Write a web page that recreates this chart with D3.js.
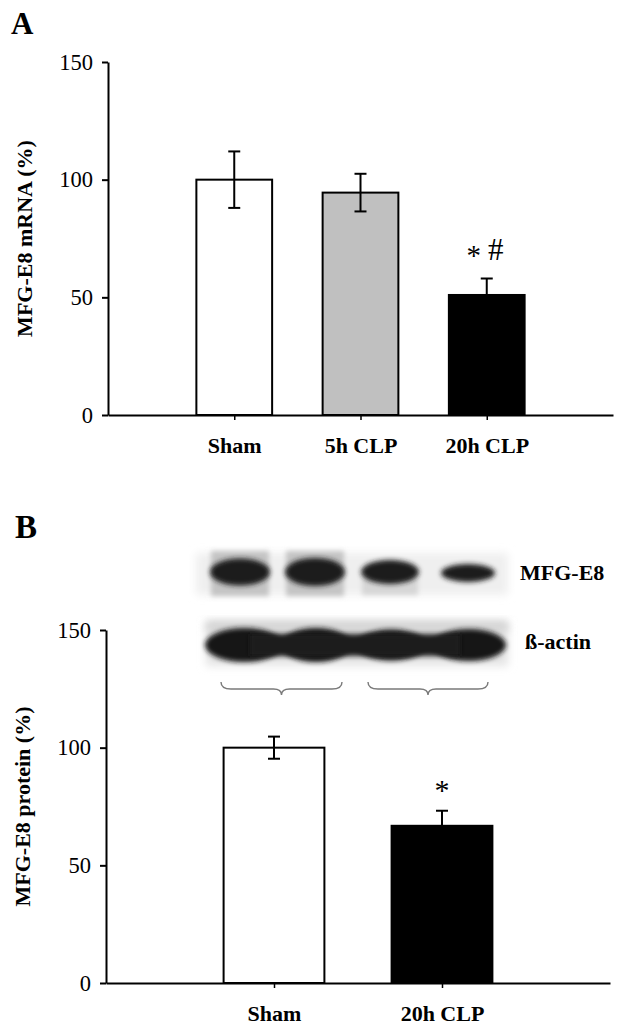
<!DOCTYPE html>
<html>
<head>
<meta charset="utf-8">
<script src="https://cdn.jsdelivr.net/npm/d3@7/dist/d3.min.js"></script>
<style>
  html, body { margin: 0; padding: 0; background: #fff; }
  svg { display: block; }
  text { font-family: "Liberation Serif", "Times New Roman", serif; fill: #000; }
</style>
</head>
<body>
<svg id="chart" width="624" height="1034"></svg>
<script>
// ---------- data ----------
const categoriesA = ["Sham", "5h CLP", "20h CLP"];
const mrnaMean = [100, 94.5, 51];
const mrnaErr = [12, 8, 7];
const annotationsA = ["", "", "* #"];

const categoriesB = ["Sham", "20h CLP"];
const proteinMean = [100, 66.8];
const proteinErr = [4.7, 6.4];
const annotationsB = ["", "*"];

const yTicks = [0, 50, 100, 150];
const blotLabels = ["MFG-E8", "ß-actin"];

// ---------- styles ----------
const fillA = d3.scaleOrdinal().domain(categoriesA).range(["#ffffff", "#c0c0c0", "#000000"]);
const fillB = d3.scaleOrdinal().domain(categoriesB).range(["#ffffff", "#000000"]);

const svg = d3.select("#chart");

const defs = svg.append("defs");
defs.append("filter").attr("id", "b1").attr("x", "-30%").attr("y", "-60%").attr("width", "160%").attr("height", "220%")
  .append("feGaussianBlur").attr("stdDeviation", 2.6);
defs.append("filter").attr("id", "b2").attr("x", "-20%").attr("y", "-60%").attr("width", "140%").attr("height", "220%")
  .append("feGaussianBlur").attr("stdDeviation", 4);

function drawPanel(g, cats, means, errs, notes, fill, x, y, label, yLabelX) {
  const bw = x.step() * 0.6;
  const [y0, y1] = y.range();

  g.selectAll("rect.bar").data(cats).join("rect")
    .attr("class", "bar")
    .attr("x", d => x(d) - bw / 2)
    .attr("y", (d, i) => y(means[i]))
    .attr("width", bw)
    .attr("height", (d, i) => y(0) - y(means[i]))
    .attr("fill", d => fill(d))
    .attr("stroke", "#000")
    .attr("stroke-width", 2);

  const eb = g.selectAll("g.err").data(cats).join("g").attr("class", "err");
  eb.append("line")
    .attr("x1", d => x(d)).attr("x2", d => x(d))
    .attr("y1", (d, i) => y(means[i] + errs[i]))
    .attr("y2", (d, i) => y(means[i] - errs[i]))
    .attr("stroke", "#000").attr("stroke-width", 2);
  [1, -1].forEach(s => {
    eb.append("line")
      .attr("x1", d => x(d) - 6).attr("x2", d => x(d) + 6)
      .attr("y1", (d, i) => y(means[i] + s * errs[i]))
      .attr("y2", (d, i) => y(means[i] + s * errs[i]))
      .attr("stroke", "#000").attr("stroke-width", 2);
  });

  const yAxis = d3.axisLeft(y).tickValues(yTicks).tickSize(6).tickSizeOuter(0).tickPadding(9);
  const ga = g.append("g").attr("transform", `translate(${x.range()[0]},0)`).call(yAxis);
  ga.select(".domain").attr("stroke-width", 2);
  ga.selectAll(".tick line").attr("stroke-width", 2);
  ga.selectAll(".tick text").style("font-size", "22.5px").style("font-family", "Liberation Serif");

  const xAxis = d3.axisBottom(x).tickSize(5).tickSizeOuter(0).tickPadding(17);
  const gx = g.append("g").attr("transform", `translate(0,${y(0)})`).call(xAxis);
  gx.select(".domain").attr("stroke-width", 2);
  gx.selectAll(".tick line").attr("stroke-width", 1.5);
  gx.selectAll(".tick text").style("font-size", "22px").style("font-weight", "bold")
    .style("font-family", "Liberation Serif");

  g.append("text")
    .attr("transform", `translate(${yLabelX},${(y0 + y1) / 2}) rotate(-90)`)
    .attr("text-anchor", "middle")
    .attr("dominant-baseline", "central")
    .style("font-size", "22px").style("font-weight", "bold")
    .text(label);

  cats.forEach((c, i) => {
    const n = notes[i];
    if (!n) return;
    const top = y(means[i] + errs[i]);
    const parts = n.split(" ");
    if (parts.length === 2) {
      g.append("text").attr("x", x(c) - 13).attr("y", top - 14)
        .attr("text-anchor", "middle").style("font-size", "29px").text(parts[0]);
      g.append("text").attr("x", x(c) + 9).attr("y", top - 19)
        .attr("text-anchor", "middle").style("font-size", "31px").text(parts[1]);
    } else {
      g.append("text").attr("x", x(c)).attr("y", top - 11)
        .attr("text-anchor", "middle").style("font-size", "30px").text(parts[0]);
    }
  });
}

// ---------- Panel A ----------
const yA = d3.scaleLinear().domain([0, 150]).range([415, 62]);
const xA = d3.scalePoint().domain(categoriesA).range([108, 613]).padding(1);
const gA = svg.append("g");
drawPanel(gA, categoriesA, mrnaMean, mrnaErr, annotationsA, fillA, xA, yA, "MFG-E8 mRNA (%)", 24);
svg.append("text").attr("x", 11).attr("y", 34).style("font-size", "31px").style("font-weight", "bold").text("A");

// ---------- Panel B ----------
const yB = d3.scaleLinear().domain([0, 150]).range([983, 630]);
const xB = d3.scalePoint().domain(categoriesB).range([106, 610]).padding(1);
const gB = svg.append("g");
drawPanel(gB, categoriesB, proteinMean, proteinErr, annotationsB, fillB, xB, yB, "MFG-E8 protein (%)", 22);
svg.append("text").attr("x", 15).attr("y", 538).style("font-size", "33px").style("font-weight", "bold").text("B");

// ---------- Western blot (illustration) ----------
const blot = svg.append("g");
// top strip (MFG-E8)
blot.append("rect").attr("x", 196).attr("y", 553).attr("width", 312).attr("height", 42)
  .attr("fill", "#efefef").attr("filter", "url(#b2)");
[[240, 58], [315, 58]].forEach(([cx, w]) => {
  blot.append("rect").attr("x", cx - w / 2).attr("y", 551).attr("width", w).attr("height", 45)
    .attr("fill", "#c4c4c4").attr("filter", "url(#b1)");
});
blot.append("rect").attr("x", 362).attr("y", 576).attr("width", 56).attr("height", 19)
  .attr("fill", "#d6d6d6").attr("filter", "url(#b1)");
[[240, 572, 30, 13.5], [315, 572, 30, 14], [390, 572, 29, 12], [468, 573, 27, 9]].forEach(([cx, cy, rx, ry]) => {
  blot.append("ellipse").attr("cx", cx).attr("cy", cy).attr("rx", rx).attr("ry", ry)
    .attr("fill", "#1a1a1a").attr("filter", "url(#b1)");
});
// bottom strip (beta-actin)
blot.append("rect").attr("x", 206).attr("y", 623).attr("width", 302).attr("height", 43)
  .attr("fill", "#e4e4e4").attr("filter", "url(#b2)");
blot.append("rect").attr("x", 206).attr("y", 621).attr("width", 302).attr("height", 10)
  .attr("fill", "#d2d2d2").attr("filter", "url(#b2)");
[[244, 645, 39, 17], [316, 645, 35, 17], [391, 645, 35, 15.5], [469, 645, 37, 16]].forEach(([cx, cy, rx, ry]) => {
  blot.append("ellipse").attr("cx", cx).attr("cy", cy).attr("rx", rx).attr("ry", ry)
    .attr("fill", "#181818").attr("filter", "url(#b1)");
});
blot.append("rect").attr("x", 250).attr("y", 634).attr("width", 210).attr("height", 22)
  .attr("fill", "#1e1e1e").attr("filter", "url(#b1)");

blot.append("text").attr("x", 520).attr("y", 580).style("font-size", "22px").style("font-weight", "bold").text(blotLabels[0]);
blot.append("text").attr("x", 525).attr("y", 649).style("font-size", "22px").style("font-weight", "bold").text(blotLabels[1]);

function brace(x0, x1, yTop) {
  const m = (x0 + x1) / 2, yb = yTop + 7, tip = yTop + 13;
  return `M${x0},${yTop} Q${x0},${yb} ${x0 + 10},${yb} L${m - 8},${yb} Q${m},${yb} ${m},${tip} ` +
         `Q${m},${yb} ${m + 8},${yb} L${x1 - 10},${yb} Q${x1},${yb} ${x1},${yTop}`;
}
[[221, 342], [368, 488]].forEach(([a, b]) => {
  blot.append("path").attr("d", brace(a, b, 682)).attr("fill", "none")
    .attr("stroke", "#7a7a7a").attr("stroke-width", 1.4);
});
</script>
</body>
</html>
